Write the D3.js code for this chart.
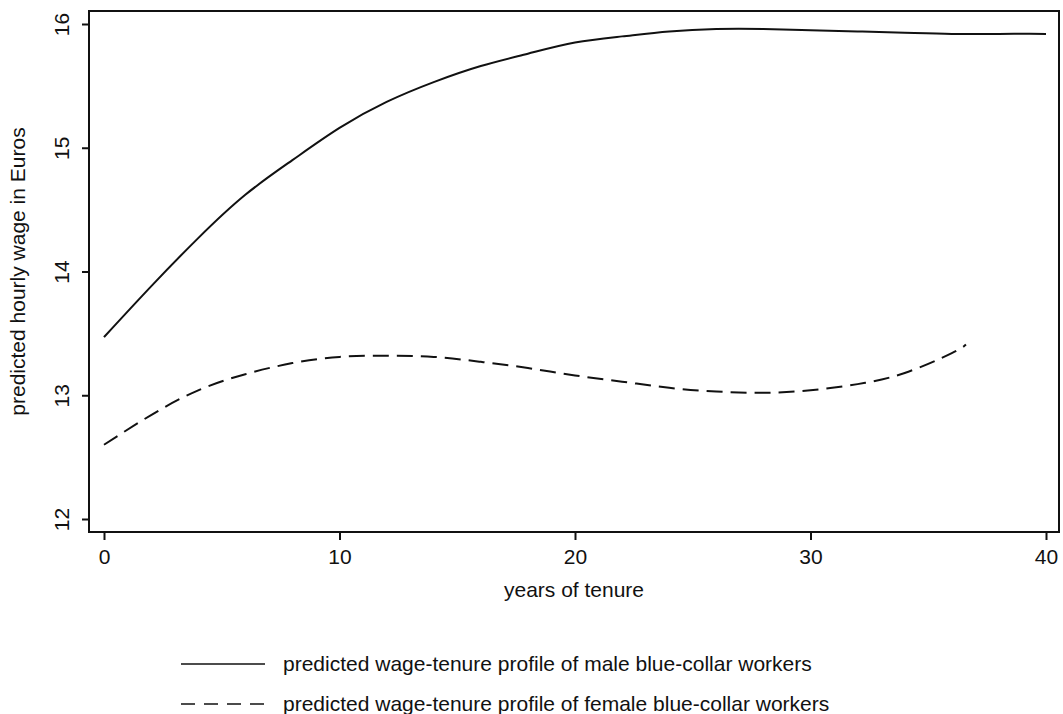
<!DOCTYPE html>
<html>
<head>
<meta charset="utf-8">
<script src="https://cdn.jsdelivr.net/npm/d3@7"></script>
<style>
  body { margin: 0; background: #fff; }
  svg text { font-family: "Liberation Sans", Arial, sans-serif; fill: #111; font-size: 21px; }
</style>
</head>
<body>
<svg id="chart" width="1063" height="714"></svg>
<script>
"use strict";

// years of tenure
var maleYears   = [0, 2, 4, 6, 8, 10, 12, 14, 16, 18, 20, 22, 24, 26, 28, 30, 32, 34, 36, 38, 40];
var maleWage    = [13.47, 13.88, 14.27, 14.62, 14.90, 15.16, 15.37, 15.53, 15.66, 15.76, 15.85,
                   15.90, 15.94, 15.96, 15.96, 15.95, 15.94, 15.93, 15.92, 15.92, 15.92];
var femaleYears = [0, 2, 4, 6, 8, 10, 12, 14, 16, 18, 20, 22, 24, 26, 28, 30, 32, 34, 36, 36.6];
var femaleWage  = [12.60, 12.84, 13.04, 13.17, 13.26, 13.31, 13.32, 13.31, 13.27, 13.22, 13.16,
                   13.11, 13.06, 13.03, 13.02, 13.04, 13.09, 13.18, 13.34, 13.41];
var xTicks = [0, 10, 20, 30, 40];
var yTicks = [12, 13, 14, 15, 16];
var legendLabels = [
    "predicted wage-tenure profile of male blue-collar workers",
    "predicted wage-tenure profile of female blue-collar workers"
];

var svg = d3.select("#chart");
var frame = { left: 89, top: 11, right: 1059, bottom: 532 };

var x = d3.scaleLinear().domain([0, 40]).range([104, 1046]);
var y = d3.scaleLinear().domain([12, 16]).range([519, 24]);

// frame
svg.append("rect")
    .attr("x", frame.left)
    .attr("y", frame.top)
    .attr("width", frame.right - frame.left)
    .attr("height", frame.bottom - frame.top)
    .attr("fill", "none")
    .attr("stroke", "#111")
    .attr("stroke-width", 2);

// y axis
var yAxis = svg.append("g")
    .attr("transform", "translate(" + frame.left + ",0)")
    .call(d3.axisLeft(y).tickValues(yTicks).tickSize(7).tickSizeOuter(0).tickFormat(d3.format("d")));
yAxis.select(".domain").remove();
yAxis.selectAll("line").attr("stroke", "#111").attr("stroke-width", 2);
yAxis.selectAll("text")
    .attr("x", null)
    .attr("transform", "translate(-27,0) rotate(-90)")
    .attr("text-anchor", "middle")
    .attr("dy", "0.35em")
    .style("font-size", null);

// x axis
var xAxis = svg.append("g")
    .attr("transform", "translate(0," + frame.bottom + ")")
    .call(d3.axisBottom(x).tickValues(xTicks).tickSize(8).tickSizeOuter(0).tickFormat(d3.format("d")));
xAxis.select(".domain").remove();
xAxis.selectAll("line").attr("stroke", "#111").attr("stroke-width", 2);
xAxis.selectAll("text")
    .attr("y", 17)
    .style("font-size", null);
svg.selectAll("g").attr("font-size", null).attr("font-family", null);

// axis titles
svg.append("text")
    .attr("x", (frame.left + frame.right) / 2)
    .attr("y", 597)
    .attr("text-anchor", "middle")
    .text("years of tenure");

svg.append("text")
    .attr("transform", "translate(25," + (frame.top + frame.bottom) / 2 + ") rotate(-90)")
    .attr("text-anchor", "middle")
    .text("predicted hourly wage in Euros");

// lines
var line = d3.line()
    .x(function (d) { return x(d[0]); })
    .y(function (d) { return y(d[1]); })
    .curve(d3.curveNatural);

var series = [
    { pts: d3.zip(maleYears, maleWage), dash: null },
    { pts: d3.zip(femaleYears, femaleWage), dash: "16,8" }
];

svg.selectAll(".series").data(series).enter().append("path")
    .attr("class", "series")
    .attr("d", function (d) { return line(d.pts); })
    .attr("fill", "none")
    .attr("stroke", "#111")
    .attr("stroke-width", 2)
    .attr("stroke-dasharray", function (d) { return d.dash; });

// legend
var legend = svg.selectAll(".legend").data(legendLabels).enter().append("g")
    .attr("class", "legend")
    .attr("transform", function (d, i) { return "translate(0," + (664 + i * 40) + ")"; });
legend.append("line")
    .attr("x1", 181).attr("x2", 265)
    .attr("stroke", "#111")
    .attr("stroke-width", 1.5)
    .attr("stroke-dasharray", function (d, i) { return series[i].dash ? "14,9" : null; });
legend.append("text")
    .attr("x", 283)
    .attr("dy", "0.35em")
    .text(function (d) { return d; });
</script>
</body>
</html>
